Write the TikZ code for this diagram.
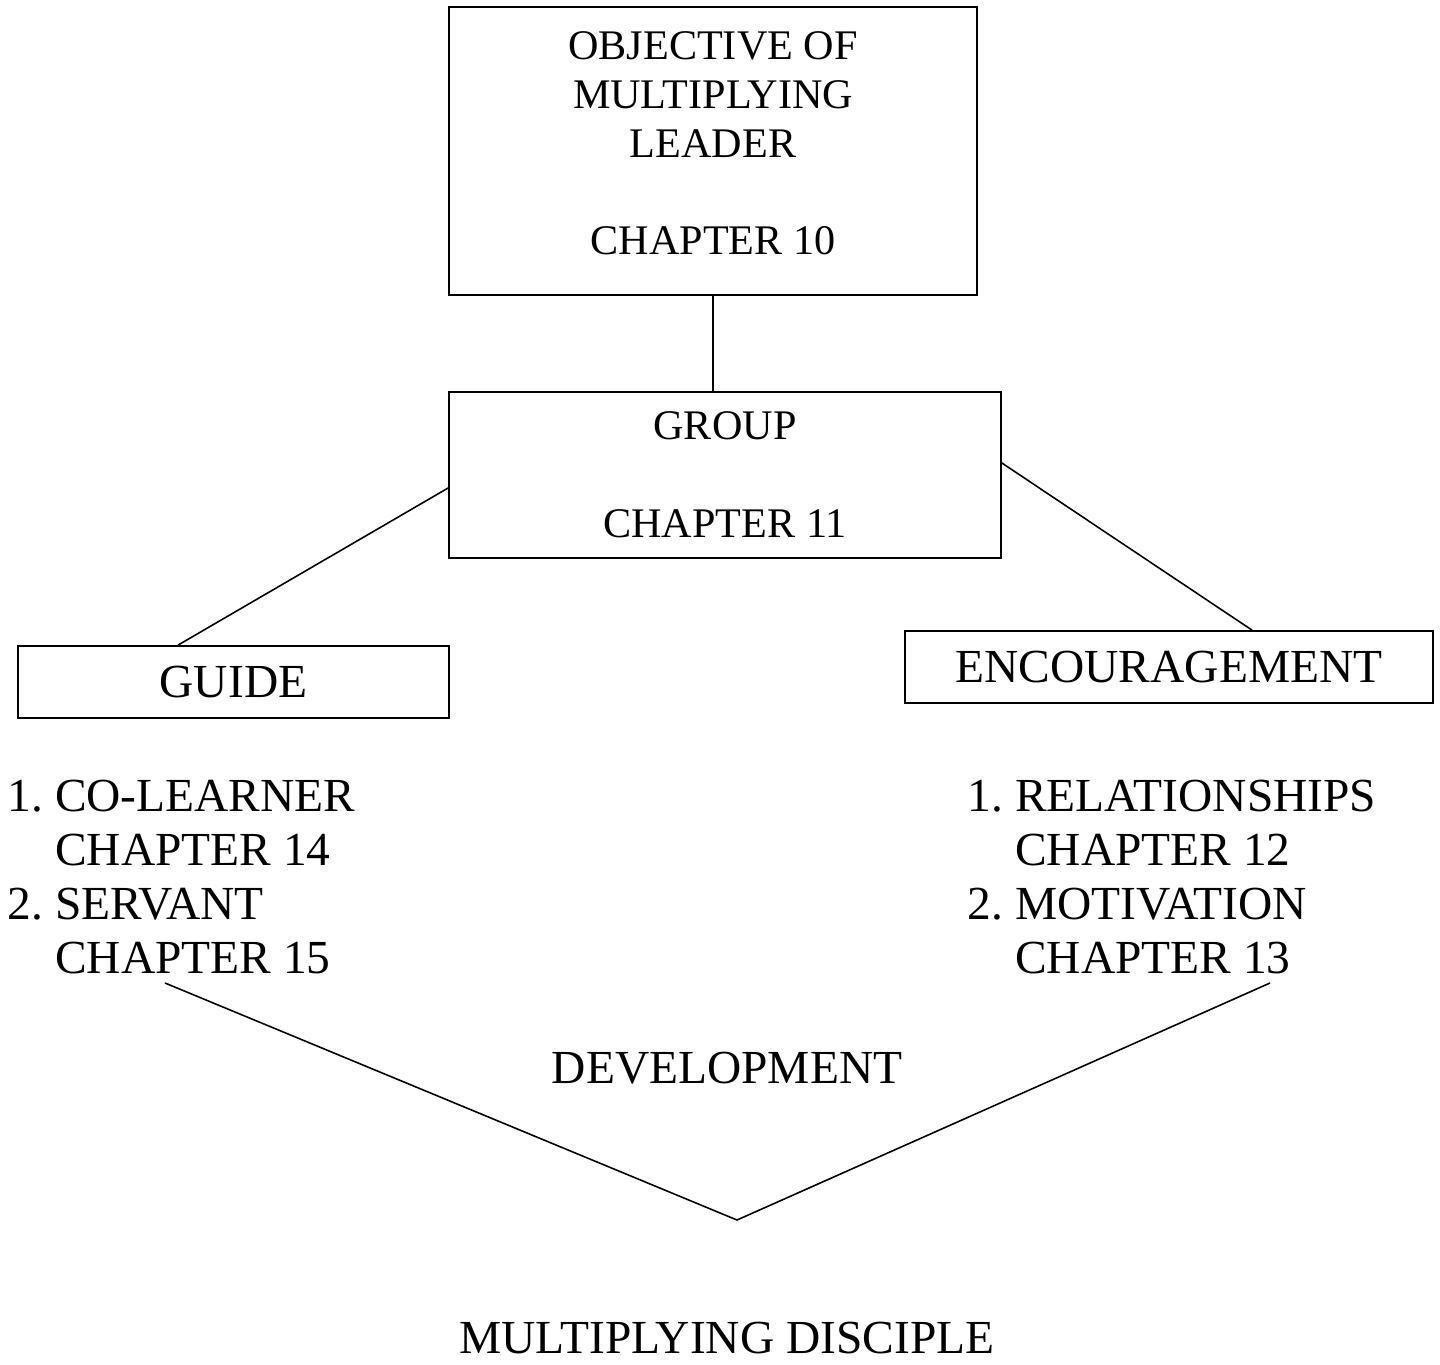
\documentclass[tikz,border=0pt]{standalone}
\usepackage{fontspec}
\setmainfont{Liberation Serif}
\usepackage{tikz}
\usetikzlibrary{positioning,calc}

\newcommand{\listnum}[1]{\makebox[30.6pt][r]{#1\hspace{6.75pt}}}

\tikzset{
    chapbox/.style={draw, line width=1pt, inner sep=0pt, align=center},
    smalltext/.style={font=\fontsize{24}{27.8}\selectfont},
    bigtext/.style={font=\fontsize{27}{30.7}\selectfont},
    link/.style={line width=0.9pt}
}

\begin{document}
\begin{tikzpicture}[x=0.02cm, y=-0.02cm]
    \useasboundingbox (0,0) rectangle (1440,1365);

    % Boxes
    \node[chapbox, smalltext, minimum width=528*0.02cm, minimum height=288*0.02cm,
          label={[smalltext, align=center, inner sep=0pt, yshift=0.15cm]center:{OBJECTIVE OF\\MULTIPLYING\\LEADER\\[27.8pt]CHAPTER 10}}]
        (objective) at (713,151) {};
    \node[chapbox, smalltext, minimum width=552*0.02cm, minimum height=166*0.02cm] (group) at (725,475)
        {GROUP\\[27.8pt]CHAPTER 11};
    \node[chapbox, bigtext, minimum width=431*0.02cm, minimum height=72*0.02cm] (guide) at (233.5,682) {GUIDE};
    \node[chapbox, bigtext, minimum width=528*0.02cm, minimum height=72*0.02cm] (encourage) at (1169,667) {ENCOURAGEMENT};

    % Lists
    \node[bigtext, align=left, inner sep=0pt, anchor=west] (guidelist) at (1,877)
        {\listnum{1.}CO-LEARNER\\\listnum{}CHAPTER 14\\\listnum{2.}SERVANT\\\listnum{}CHAPTER 15};
    \node[bigtext, align=left, inner sep=0pt, anchor=west] (encourlist) at (961,877)
        {\listnum{1.}RELATIONSHIPS\\\listnum{}CHAPTER 12\\\listnum{2.}MOTIVATION\\\listnum{}CHAPTER 13};

    \node[bigtext] (development) at (727,1068) {DEVELOPMENT};
    \node[bigtext] (disciple) at (727,1338) {MULTIPLYING DISCIPLE};

    % Connectors
    \draw[link] (objective.south) -- (objective.south |- group.north);
    \draw[link] ($(group.west)+(0,13)$) -- ($(guide.north)+(-55.5,0)$);
    \draw[link] ($(group.east)+(0,-12)$) -- ($(encourage.north)+(83,0)$);

    % V shape
    \coordinate (vleft) at (165,983);
    \coordinate (vtip) at (737,1220);
    \coordinate (vright) at (1270,983);
    \draw[link] (vleft) -- (vtip) -- (vright);
\end{tikzpicture}
\end{document}
